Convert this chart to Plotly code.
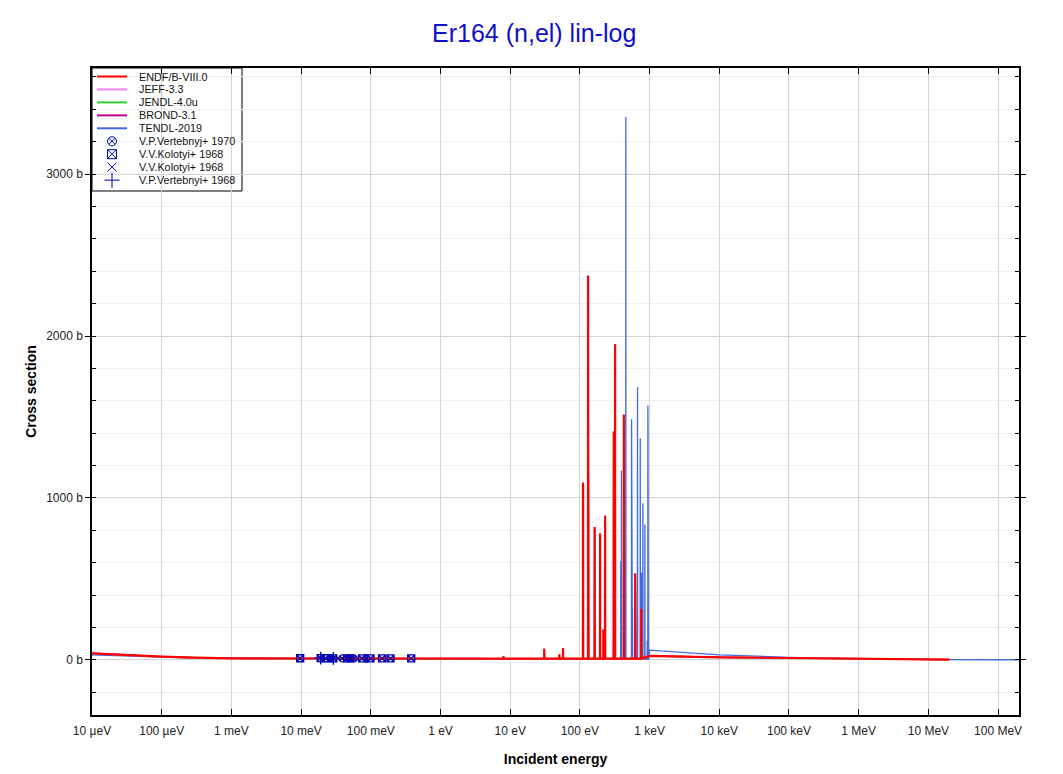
import plotly.graph_objects as go

# ---------------- data ----------------
# ENDF/B-VIII.0 smooth parts (eV, barn)
endf_low_e = [1e-5, 3e-5, 1e-4, 3e-4, 1e-3, 1e-2, 0.1, 1.0, 5.0]
endf_low_xs = [41, 30, 20, 14, 10, 8.8, 8.5, 8.3, 8.2]
endf_high_e = [1000, 1e4, 1e5, 1e6, 2e7]
endf_high_xs = [25, 16, 12, 8, 2]
# ENDF/B-VIII.0 resolved resonances: peak energies (eV) and peak heights (b)
endf_res_e = [8.0, 30.8, 50.7, 57.3, 111, 131, 133.5, 163, 195, 218, 230, 306, 320, 427, 622, 632, 759]
endf_res_xs = [23, 69, 34, 73, 1094, 2372, 87, 821, 780, 188, 890, 1411, 1950, 1514, 534, 172, 316]

# TENDL-2019 smooth parts
tendl_low_e = [1e-5, 3e-5, 1e-4, 3e-4, 1e-3, 1e-2, 0.1, 1.0, 5.0]
tendl_low_xs = [31, 24, 17, 12, 9.5, 8.6, 8.4, 8.2, 8.1]
tendl_high_e = [1000, 1e4, 1e5, 1e6, 1e7, 2e8]
tendl_high_xs = [60, 31, 16, 6, 2, 1]
# TENDL-2019 resonances
tendl_res_e = [8.0, 30.8, 57.3, 111, 131, 163, 195, 230, 306, 320, 386, 395, 441, 456, 551, 569,
               671, 735, 767, 801, 856, 926, 946, 965]
tendl_res_xs = [20, 60, 65, 1000, 2200, 780, 740, 850, 1350, 1850, 608, 1170, 688, 3353, 1486, 321,
                1686, 1369, 539, 968, 837, 119, 1571, 69]

# Experimental data (eV, barn)
vert1970_e = [0.0266, 0.039, 0.057, 0.086]
vert1970_xs = [10.2, 9.6, 9.3, 9.0]
kol_sq_e = [0.0097, 0.0191, 0.0225, 0.029, 0.0458, 0.051, 0.075, 0.099, 0.145, 0.192, 0.38]
kol_sq_xs = [10.5, 11.0, 10.4, 9.8, 10.0, 9.4, 9.8, 9.2, 9.5, 9.1, 9.4]
kol_x_e = [0.0225, 0.051]
kol_x_xs = [10.4, 9.4]
vert1968_e = [0.0191, 0.029]
vert1968_xs = [11.0, 9.8]

x_tickvals = [1e-5, 1e-4, 1e-3, 1e-2, 1e-1, 1, 10, 100, 1e3, 1e4, 1e5, 1e6, 1e7, 1e8]
x_ticktext = ["10 µeV", "100 µeV", "1 meV", "10 meV", "100 meV", "1 eV", "10 eV", "100 eV",
              "1 keV", "10 keV", "100 keV", "1 MeV", "10 MeV", "100 MeV"]
y_tickvals = [0, 1000, 2000, 3000]
y_ticktext = ["0 b", "1000 b", "2000 b", "3000 b"]

# legend entries (name, kind, colour / symbol)
line_names = ["ENDF/B-VIII.0", "JEFF-3.3", "JENDL-4.0u", "BROND-3.1", "TENDL-2019"]
line_colors = ["#ff0000", "#ff80ff", "#33cc33", "#c0008f", "#4169e1"]
marker_names = ["V.P.Vertebnyj+ 1970", "V.V.Kolotyi+ 1968", "V.V.Kolotyi+ 1968", "V.P.Vertebnyi+ 1968"]
marker_symbols = ["circle-x-open", "square-x-open", "x-thin-open", "cross-thin-open"]
legend_marker_sizes = [9, 9, 9, 11]
plot_marker_sizes = [7, 7, 7, 9]
MC = "#0000b4"


def build_curve(low_e, low_xs, res_e, res_xs, high_e, high_xs, base=8.0, w=0.004):
    pts = list(zip(low_e, low_xs))
    for e, h in zip(res_e, res_xs):
        pts.append((e * (1 - 3 * w), base))
        pts.append((e * (1 - w), 0.5))
        pts.append((e, h))
        pts.append((e * (1 + w), base))
    pts += list(zip(high_e, high_xs))
    pts.sort(key=lambda p: p[0])
    return [p[0] for p in pts], [p[1] for p in pts]


endf_x, endf_y = build_curve(endf_low_e, endf_low_xs, endf_res_e, endf_res_xs, endf_high_e, endf_high_xs)
tendl_x, tendl_y = build_curve(tendl_low_e, tendl_low_xs, tendl_res_e, tendl_res_xs, tendl_high_e, tendl_high_xs)

fig = go.Figure()

# draw order: TENDL underneath, ENDF on top
fig.add_trace(go.Scatter(x=tendl_x, y=tendl_y, mode="lines", name=line_names[4],
                         line=dict(color=line_colors[4], width=1.3)))
for i in (3, 2, 1, 0):
    fig.add_trace(go.Scatter(x=endf_x, y=endf_y, mode="lines", name=line_names[i],
                             line=dict(color=line_colors[i], width=2.2 if i == 0 else 1.5)))

exp_sets = [(vert1970_e, vert1970_xs), (kol_sq_e, kol_sq_xs), (kol_x_e, kol_x_xs), (vert1968_e, vert1968_xs)]
for (ex, ey), nm, sym, sz in zip(exp_sets, marker_names, marker_symbols, plot_marker_sizes):
    fig.add_trace(go.Scatter(x=ex, y=ey, mode="markers", name=nm,
                             marker=dict(symbol=sym, size=sz, color=MC, line=dict(width=1.3, color=MC))))

# ---------------- compact legend (drawn by hand in plot-area coordinates) ----------------
PW, PH = 927.0, 647.0          # plot-area size in px
def fx(px):                     # px offset from plot left -> fraction
    return px / PW
def fy(py):                     # px offset from plot top -> fraction
    return 1 - py / PH

ROW0, ROWH = 8.5, 12.95
shapes = [dict(type="rect", xref="paper", yref="paper", x0=0, x1=fx(150), y0=fy(123), y1=1,
               fillcolor="white", line=dict(color="black", width=1), layer="between")]
annotations = []
all_names = line_names + marker_names
for i, nm in enumerate(all_names):
    yy = fy(ROW0 + ROWH * i)
    annotations.append(dict(text=nm, x=fx(44.5), y=yy, xref="paper", yref="paper", xanchor="left",
                            yanchor="middle", showarrow=False,
                            font=dict(size=10.8, color="#111", family="Liberation Sans, Arial, sans-serif")))
    if i < len(line_names):
        shapes.append(dict(type="line", xref="paper", yref="paper", x0=fx(5), x1=fx(35), y0=yy, y1=yy,
                           line=dict(color=line_colors[i], width=2), layer="above"))
    else:
        j = i - len(line_names)
        fig.add_trace(go.Scatter(x=[fx(20)], y=[yy], xaxis="x2", yaxis="y2", mode="markers",
                                 showlegend=False, hoverinfo="skip",
                                 marker=dict(symbol=marker_symbols[j], size=legend_marker_sizes[j], color=MC,
                                             line=dict(width=1, color=MC))))

fig.update_layout(
    width=1063, height=774,
    margin=dict(l=84, r=52, t=60, b=67),
    paper_bgcolor="white", plot_bgcolor="white",
    font=dict(family="Liberation Sans, Arial, sans-serif", size=12, color="#222"),
    title=dict(text="Er164 (n,el) lin-log", x=0.495, xref="container", xanchor="center",
               y=0.967, yref="container", yanchor="middle",
               font=dict(size=25, color="#1010c8", family="Liberation Sans, Arial, sans-serif")),
    showlegend=False,
    shapes=shapes, annotations=annotations,
    xaxis=dict(
        type="log", range=[-5, 8.3],
        tickmode="array", tickvals=x_tickvals, ticktext=x_ticktext,
        ticks="inside", ticklen=6, tickcolor="black", ticklabelstandoff=4,
        showline=True, linecolor="black", linewidth=1.5, mirror="ticks",
        showgrid=True, gridcolor="#d3d3d3", gridwidth=1, zeroline=False,
        title=dict(text="<b>Incident energy</b>", font=dict(size=14, color="black"), standoff=17),
        tickfont=dict(size=12, color="#222"),
    ),
    yaxis=dict(
        range=[-340, 3655],
        tickmode="array", tickvals=y_tickvals, ticktext=y_ticktext,
        ticks="outside", ticklen=5, tickcolor="black",
        showline=True, linecolor="black", linewidth=1.5, mirror="ticks",
        showgrid=True, gridcolor="#d3d3d3", gridwidth=1, zeroline=False,
        minor=dict(dtick=200, tick0=0, ticks="inside", ticklen=4, tickcolor="black",
                   showgrid=True, gridcolor="#f0f0f0", gridwidth=1),
        title=dict(text="<b>Cross section</b>", font=dict(size=14, color="black"), standoff=6),
        tickfont=dict(size=12, color="#222"),
    ),
    xaxis2=dict(overlaying="x", range=[0, 1], visible=False, fixedrange=True),
    yaxis2=dict(overlaying="y", range=[0, 1], visible=False, fixedrange=True),
)

fig.write_html("out.html")
